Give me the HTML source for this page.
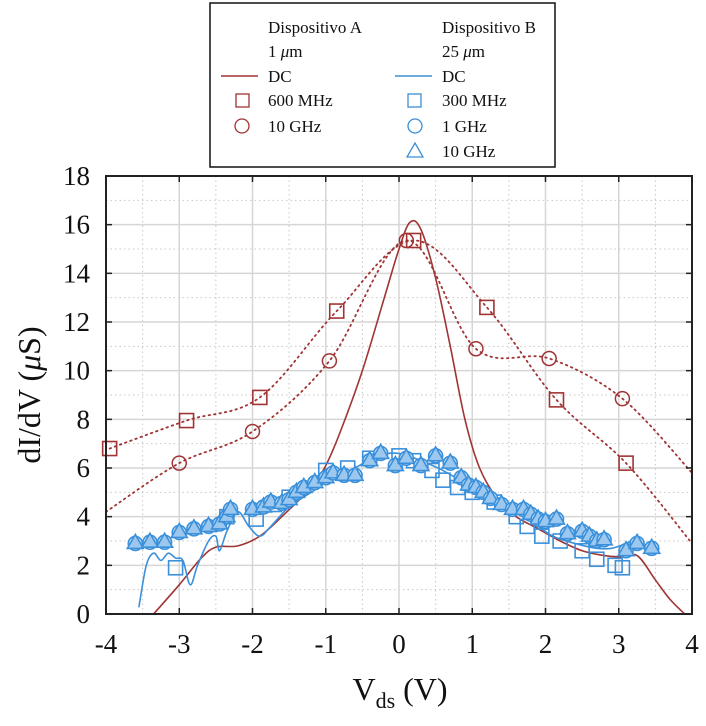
<!DOCTYPE html>
<html><head><meta charset="utf-8">
<style>
body{margin:0;background:#fff;width:706px;height:721px;overflow:hidden;font-family:"Liberation Serif",serif;}
svg text{font-family:"Liberation Serif",serif;fill:#111;}
</style></head>
<body>
<svg id="chart" width="706" height="721">
<g id="grid"></g>
<g id="series"></g>
<g id="axes"></g>
<text x="400" y="700" font-size="32" text-anchor="middle">V<tspan font-size="22" dy="8">ds</tspan><tspan dy="-8"> (V)</tspan></text>
<text transform="translate(40,395) rotate(-90)" font-size="32" text-anchor="middle">dI/dV (<tspan font-style="italic">μ</tspan>S)</text>
<g>
<rect x="210" y="3" width="345" height="164" fill="#fff" stroke="#111" stroke-width="1.5"/>
<g font-size="17">
<text x="268" y="33">Dispositivo A</text><text x="268" y="57">1 <tspan font-style="italic">μ</tspan>m</text>
<text x="268" y="82">DC</text><text x="268" y="106">600 MHz</text><text x="268" y="132">10 GHz</text>
<text x="442" y="33">Dispositivo B</text><text x="442" y="57">25 <tspan font-style="italic">μ</tspan>m</text>
<text x="442" y="82">DC</text><text x="442" y="106">300 MHz</text><text x="442" y="132">1 GHz</text><text x="442" y="157">10 GHz</text>
</g>
<line x1="221" y1="76" x2="258" y2="76" stroke="#a03434" stroke-width="1.5"/>
<rect x="236" y="94" width="13" height="13" fill="none" stroke="#a03434" stroke-width="1.3"/>
<circle cx="242" cy="126" r="7" fill="none" stroke="#a03434" stroke-width="1.3"/>
<line x1="395" y1="76" x2="432" y2="76" stroke="#3a8fd6" stroke-width="1.5"/>
<rect x="408" y="94" width="13" height="13" fill="none" stroke="#3a8fd6" stroke-width="1.3"/>
<circle cx="415" cy="126" r="7" fill="none" stroke="#3a8fd6" stroke-width="1.3"/>
<path d="M415,143 L423,157 L407,157 Z" fill="none" stroke="#3a8fd6" stroke-width="1.3"/>
</g>
</svg>
<script>
const xTicks=[-4,-3,-2,-1,0,1,2,3,4];
const yTicks=[0,2,4,6,8,10,12,14,16,18];
const aDCx=[-3.35,-3,-2.7,-2.5,-2.2,-1.9,-1.6,-1.2,-1,-0.8,-0.5,-0.2,0,0.15,0.3,0.5,0.7,0.9,1.1,1.35,1.6,1.9,2.2,2.5,2.8,3.0,3.25,3.5,3.7,3.9];
const aDCy=[0,1.2,2.3,2.75,2.8,3.2,4,5.2,6.1,7.5,10,13,15,16.1,15.8,13.8,11,8,6,4.7,4.0,3.5,3.0,2.6,2.4,2.35,2.4,1.4,0.6,0];
const aSqX=[-3.95,-2.9,-1.9,-0.85,0.2,1.2,2.15,3.1];
const aSqY=[6.8,7.95,8.9,12.45,15.35,12.6,8.8,6.2];
const aSqLineX=[-3.95,-2.9,-1.9,-0.85,0.2,1.2,2.15,3.1,4];
const aSqLineY=[6.8,7.95,8.9,12.45,15.35,12.6,8.8,6.2,2.9];
const aCiX=[-3,-2,-0.95,0.1,1.05,2.05,3.05];
const aCiY=[6.2,7.5,10.4,15.35,10.9,10.5,8.85];
const aCiLineX=[-4,-3,-2,-0.95,0.1,1.05,2.05,3.05,4];
const aCiLineY=[4.2,6.2,7.5,10.4,15.35,10.9,10.5,8.85,5.8];
const bDCx=[-3.55,-3.45,-3.35,-3.25,-3.15,-3.05,-2.95,-2.85,-2.75,-2.6,-2.5,-2.45,-2.35,-2.2,-2.05,-1.9,-1.75,-1.5,-1.2,-0.9,-0.6,-0.3,0,0.3,0.6,1.0,1.4,1.8,2.1,2.4,2.7,2.9,3.1,3.25,3.35];
const bDCy=[0.3,2.0,2.5,2.2,2.5,2.3,2.2,1.2,2.0,3.0,3.2,2.6,3.4,4.2,3.6,3.2,3.6,4.4,5.0,5.6,6.0,6.5,6.6,6.3,5.9,5.2,4.5,3.8,3.2,2.9,2.7,2.7,2.9,3.1,2.8];
const bSqX=[-3.05,-2.35,-1.95,-1.7,-1.5,-1.0,-0.7,-0.4,0,0.2,0.45,0.6,0.8,1.0,1.3,1.6,1.75,1.95,2.2,2.5,2.7,2.95,3.05];
const bSqY=[1.9,4.0,3.9,4.5,4.8,5.9,6.0,6.4,6.5,6.3,5.9,5.5,5.2,5.0,4.6,4.0,3.6,3.2,3.0,2.6,2.25,2.0,1.9];
const bTrX=[-3.6,-3.4,-3.2,-3,-2.8,-2.6,-2.45,-2.35,-2.3,-2,-1.85,-1.75,-1.6,-1.5,-1.4,-1.3,-1.15,-1,-0.9,-0.75,-0.6,-0.4,-0.25,-0.05,0.1,0.3,0.5,0.7,0.85,0.95,1.05,1.15,1.25,1.4,1.55,1.7,1.8,1.9,2.0,2.15,2.3,2.5,2.6,2.7,2.8,3.1,3.25,3.45];
const bTrY=[2.9,2.95,2.95,3.35,3.5,3.6,3.7,4.0,4.3,4.3,4.4,4.6,4.55,4.7,5.0,5.2,5.4,5.6,5.8,5.7,5.7,6.3,6.6,6.1,6.4,6.1,6.5,6.2,5.6,5.3,5.2,5.0,4.75,4.5,4.3,4.3,4.1,3.9,3.8,3.9,3.3,3.4,3.2,3.0,3.05,2.6,2.9,2.7];

const L=106,R=692,T=176,B=614,NS='http://www.w3.org/2000/svg';
const X=v=>L+(v+4)/8*(R-L), Y=v=>B-v/18*(B-T);
const RED='#a03434',BLUE='#3a90da';
function mk(tag,attrs,parent){const e=document.createElementNS(NS,tag);for(const k in attrs)e.setAttribute(k,attrs[k]);parent.appendChild(e);return e;}
const grid=document.getElementById('grid'),ser=document.getElementById('series'),axes=document.getElementById('axes');
for(let v=-3.5;v<4;v+=1){const g=mk('line',{x1:X(v),x2:X(v),y1:T,y2:B,stroke:'#c8c8c8','stroke-dasharray':'1.5,3'},grid);

}
for(let v=1;v<18;v+=2){const g=mk('line',{x1:L,x2:R,y1:Y(v),y2:Y(v),stroke:'#c8c8c8','stroke-dasharray':'1.5,3'},grid);

}
xTicks.forEach(v=>{const g=mk('line',{x1:X(v),x2:X(v),y1:T,y2:B,stroke:'#d6d6d6','stroke-width':1.5},grid);


const t=mk('text',{x:X(v),y:653,'font-size':27,'text-anchor':'middle'},axes);t.textContent=v;


mk('line',{x1:X(v),x2:X(v),y1:B,y2:B-6,stroke:'#222','stroke-width':1.5},axes);
mk('line',{x1:X(v),x2:X(v),y1:T,y2:T+6,stroke:'#222','stroke-width':1.5},axes);});
yTicks.forEach(v=>{const g=mk('line',{x1:L,x2:R,y1:Y(v),y2:Y(v),stroke:'#d6d6d6','stroke-width':1.5},grid);


const t=mk('text',{x:90,y:Y(v)+9,'font-size':27,'text-anchor':'end'},axes);t.textContent=v;


mk('line',{x1:L,x2:L+6,y1:Y(v),y2:Y(v),stroke:'#222','stroke-width':1.5},axes);
mk('line',{x1:R,x2:R-6,y1:Y(v),y2:Y(v),stroke:'#222','stroke-width':1.5},axes);});
const fr=mk('rect',{x:L,y:T,width:R-L,height:B-T,fill:'none',stroke:'#222','stroke-width':2},axes);


function smoothPath(xs,ys){const P=xs.map((x,i)=>[X(x),Y(ys[i])]);let d='M'+P[0][0]+','+P[0][1];
for(let i=0;i<P.length-1;i++){const p0=P[i-1]||P[i],p1=P[i],p2=P[i+1],p3=P[i+2]||p2;
const c1=[p1[0]+(p2[0]-p0[0])/6,p1[1]+(p2[1]-p0[1])/6],c2=[p2[0]-(p3[0]-p1[0])/6,p2[1]-(p3[1]-p1[1])/6];
d+=` C${c1[0]},${c1[1]} ${c2[0]},${c2[1]} ${p2[0]},${p2[1]}`;}return d;}
function line(xs,ys,color,dash,name){const p=mk('path',{d:smoothPath(xs,ys),fill:'none',stroke:color,'stroke-width':dash?1.8:1.6,'stroke-dasharray':dash||'none','stroke-linecap':'round'},ser);

}
function marks(xs,ys,color,type,name){xs.forEach((x,i)=>{const cx=X(x),cy=Y(ys[i]);let e;
if(type==='sq')e=mk('rect',{x:cx-7,y:cy-7,width:14,height:14,fill:'none',stroke:color,'stroke-width':1.6},ser);
else if(type==='ci')e=mk('circle',{cx:cx,cy:cy,r:7,fill:'none',stroke:color,'stroke-width':1.5},ser);
else{e=mk('g',{},ser);mk('circle',{cx:cx,cy:cy,r:7,fill:'#cfe4f7',stroke:color,'stroke-width':1.6},e);mk('path',{d:`M${cx},${cy-9} L${cx+8},${cy+5} L${cx-8},${cy+5} Z`,fill:'#9cc8ef',stroke:color,'stroke-width':1.6},e);}

});}
line(aSqLineX,aSqLineY,RED,'1.5,4','a-600mhz-line');
line(aCiLineX,aCiLineY,RED,'1.5,4','a-10ghz-line');
line(aDCx,aDCy,RED,null,'a-dc-line');
line(bDCx,bDCy,BLUE,null,'b-dc-line');
marks(bSqX,bSqY,BLUE,'sq','b-300mhz-point');
marks(bTrX,bTrY,BLUE,'tr','b-1ghz-10ghz-point');
marks(aSqX,aSqY,RED,'sq','a-600mhz-point');
marks(aCiX,aCiY,RED,'ci','a-10ghz-point');
</script>
</body></html>
